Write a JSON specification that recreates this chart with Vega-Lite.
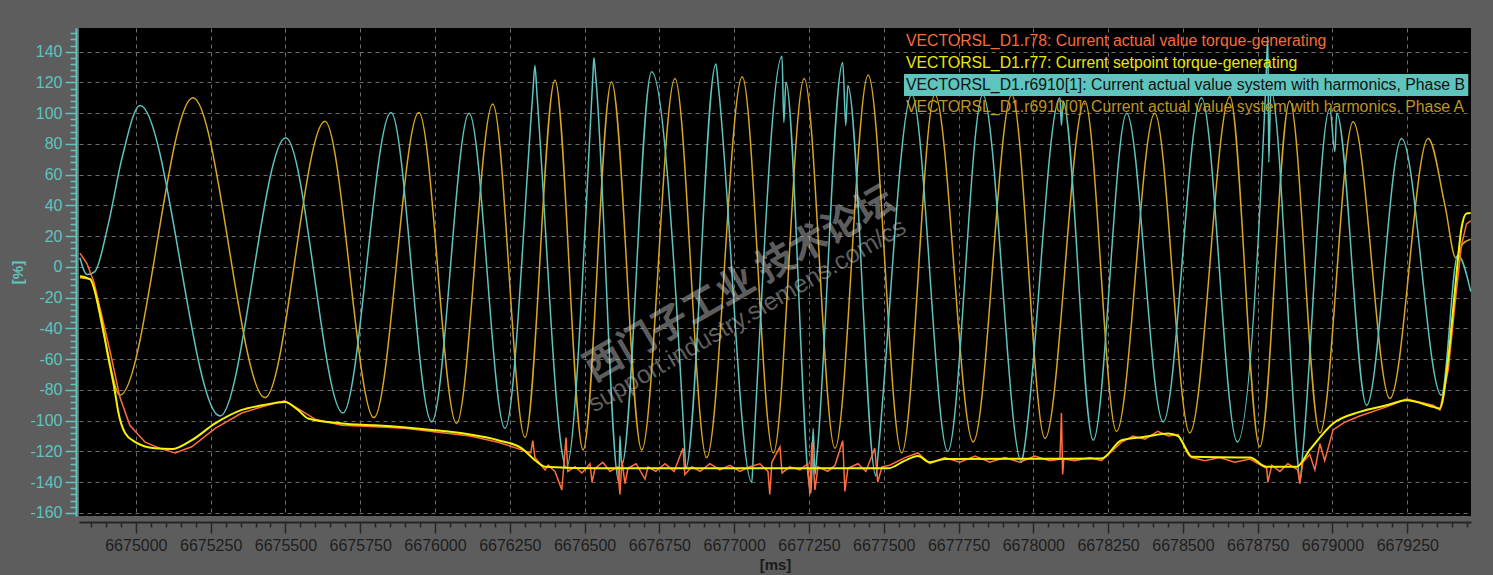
{
  "$schema": "https://vega.github.io/schema/vega-lite/v6.json",
  "width": 1392,
  "height": 488,
  "autosize": {"type": "none"},
  "padding": {"left": 79, "top": 28, "right": 22, "bottom": 59},
  "background": "#5d5d5d",
  "config": {
    "view": {"fill": "#000000", "stroke": null},
    "font": "Liberation Sans",
    "axis": {"labelFont": "Liberation Sans", "titleFont": "Liberation Sans"}
  },
  "datasets": {
    "wm": [
      {"w": "西门子工业  技术论坛", "kind": "cn"},
      {"w": "support.industry.siemens.com/cs", "kind": "url"}
    ]
  },
  "data": {"values": [
    {"s":"A","t":6674813,"v":-7},{"s":"A","t":6674847,"v":-8},{"s":"A","t":6674894,"v":-45},{"s":"A","t":6674947,"v":-83.4},
    {"s":"A","t":6675191,"v":110},{"s":"A","t":6675432,"v":-85},{"s":"A","t":6675632,"v":94.8},{"s":"A","t":6675796,"v":-98},
    {"s":"A","t":6675946,"v":100.5},{"s":"A","t":6676072,"v":-101.8},{"s":"A","t":6676193,"v":106},{"s":"A","t":6676301,"v":-111},
    {"s":"A","t":6676401,"v":121.5},{"s":"A","t":6676495,"v":-119},{"s":"A","t":6676590,"v":120.4},{"s":"A","t":6676691,"v":-119},
    {"s":"A","t":6676802,"v":122.6},{"s":"A","t":6676908,"v":-124},{"s":"A","t":6677027,"v":123.7},{"s":"A","t":6677131,"v":-121},
    {"s":"A","t":6677234,"v":122.6},{"s":"A","t":6677337,"v":-118},{"s":"A","t":6677448,"v":124.8},{"s":"A","t":6677560,"v":-121},
    {"s":"A","t":6677671,"v":112},{"s":"A","t":6677799,"v":-113.8},{"s":"A","t":6677928,"v":112},{"s":"A","t":6678039,"v":-111.6},
    {"s":"A","t":6678172,"v":108},{"s":"A","t":6678278,"v":-107},{"s":"A","t":6678406,"v":100},{"s":"A","t":6678523,"v":-108},
    {"s":"A","t":6678657,"v":110.7},{"s":"A","t":6678757,"v":-117},{"s":"A","t":6678857,"v":108},{"s":"A","t":6678958,"v":-108},
    {"s":"A","t":6679069,"v":94.4},{"s":"A","t":6679192,"v":-85.6},{"s":"A","t":6679320,"v":83.6},{"s":"A","t":6679376,"v":40},
    {"s":"A","t":6679412,"v":6},{"s":"A","t":6679436,"v":15},{"s":"A","t":6679462,"v":18},

    {"s":"B","t":6674813,"v":6},{"s":"B","t":6674837,"v":-5},{"s":"B","t":6674863,"v":-3},{"s":"B","t":6674907,"v":27},
    {"s":"B","t":6674954,"v":71},{"s":"B","t":6675014,"v":105},{"s":"B","t":6675281,"v":-97},{"s":"B","t":6675501,"v":84},
    {"s":"B","t":6675692,"v":-95},{"s":"B","t":6675853,"v":100.5},{"s":"B","t":6675989,"v":-100.8},{"s":"B","t":6676114,"v":100},
    {"s":"B","t":6676234,"v":-105},{"s":"B","t":6676327,"v":113},{"s":"B","t":6676334,"v":131},{"s":"B","t":6676341,"v":112},
    {"s":"B","t":6676428,"v":-124},{"s":"B","t":6676438,"v":-131},{"s":"B","t":6676528,"v":125},{"s":"B","t":6676531,"v":136},
    {"s":"B","t":6676538,"v":122},{"s":"B","t":6676615,"v":-140},{"s":"B","t":6676618,"v":-110},{"s":"B","t":6676624,"v":-129},
    {"s":"B","t":6676724,"v":127},{"s":"B","t":6676835,"v":-120},{"s":"B","t":6676838,"v":-131},{"s":"B","t":6676939,"v":132},
    {"s":"B","t":6676947,"v":118},{"s":"B","t":6677059,"v":-140},{"s":"B","t":6677064,"v":-122},{"s":"B","t":6677160,"v":137},
    {"s":"B","t":6677166,"v":94},{"s":"B","t":6677173,"v":120},{"s":"B","t":6677257,"v":-147},{"s":"B","t":6677264,"v":-105},
    {"s":"B","t":6677270,"v":-135},{"s":"B","t":6677277,"v":-122},{"s":"B","t":6677363,"v":133},{"s":"B","t":6677373,"v":92},
    {"s":"B","t":6677380,"v":118},{"s":"B","t":6677474,"v":-136},{"s":"B","t":6677481,"v":-122},{"s":"B","t":6677594,"v":112},
    {"s":"B","t":6677714,"v":-120},{"s":"B","t":6677831,"v":112},{"s":"B","t":6677961,"v":-127},{"s":"B","t":6677966,"v":-122.5},
    {"s":"B","t":6678089,"v":110},{"s":"B","t":6678094,"v":92},{"s":"B","t":6678099,"v":108},{"s":"B","t":6678200,"v":-112.7},
    {"s":"B","t":6678312,"v":100},{"s":"B","t":6678434,"v":-100.8},{"s":"B","t":6678562,"v":110},{"s":"B","t":6678682,"v":-113.8},
    {"s":"B","t":6678777,"v":118},{"s":"B","t":6678784,"v":150},{"s":"B","t":6678787,"v":68},{"s":"B","t":6678794,"v":115},
    {"s":"B","t":6678884,"v":-127},{"s":"B","t":6678891,"v":-140},{"s":"B","t":6678901,"v":-120},{"s":"B","t":6678991,"v":103},
    {"s":"B","t":6679008,"v":75},{"s":"B","t":6679014,"v":100},{"s":"B","t":6679114,"v":-90},{"s":"B","t":6679231,"v":83.6},
    {"s":"B","t":6679364,"v":-83.4},{"s":"B","t":6679419,"v":7.7},{"s":"B","t":6679462,"v":-16},

    {"s":"r77","t":6674813,"v":-6},{"s":"r77","t":6674847,"v":-8},{"s":"r77","t":6674880,"v":-30},{"s":"r77","t":6674908,"v":-59},
    {"s":"r77","t":6674930,"v":-81},{"s":"r77","t":6674941,"v":-94},{"s":"r77","t":6674964,"v":-108},{"s":"r77","t":6674997,"v":-113.8},
    {"s":"r77","t":6675064,"v":-118},{"s":"r77","t":6675121,"v":-118.5},{"s":"r77","t":6675187,"v":-112.7},{"s":"r77","t":6675265,"v":-101.8},
    {"s":"r77","t":6675354,"v":-93},{"s":"r77","t":6675422,"v":-90},{"s":"r77","t":6675498,"v":-87.8},{"s":"r77","t":6675542,"v":-93},
    {"s":"r77","t":6675576,"v":-98.6},{"s":"r77","t":6675688,"v":-101.8},{"s":"r77","t":6675799,"v":-103},{"s":"r77","t":6675989,"v":-106},
    {"s":"r77","t":6676117,"v":-109},{"s":"r77","t":6676211,"v":-112.7},{"s":"r77","t":6676290,"v":-118},{"s":"r77","t":6676334,"v":-125.7},
    {"s":"r77","t":6676368,"v":-130},{"s":"r77","t":6676551,"v":-131},{"s":"r77","t":6676886,"v":-131},{"s":"r77","t":6677514,"v":-131},
    {"s":"r77","t":6677571,"v":-126},{"s":"r77","t":6677614,"v":-123},{"s":"r77","t":6677654,"v":-127},{"s":"r77","t":6677704,"v":-125},
    {"s":"r77","t":6678228,"v":-124.6},{"s":"r77","t":6678295,"v":-112.7},{"s":"r77","t":6678373,"v":-110.5},{"s":"r77","t":6678451,"v":-108.3},
    {"s":"r77","t":6678484,"v":-110},{"s":"r77","t":6678529,"v":-123.5},{"s":"r77","t":6678724,"v":-124},{"s":"r77","t":6678780,"v":-130},
    {"s":"r77","t":6678880,"v":-130},{"s":"r77","t":6678924,"v":-119},{"s":"r77","t":6679002,"v":-101.8},{"s":"r77","t":6679091,"v":-94.3},
    {"s":"r77","t":6679181,"v":-90},{"s":"r77","t":6679247,"v":-86.7},{"s":"r77","t":6679336,"v":-91},{"s":"r77","t":6679359,"v":-92},
    {"s":"r77","t":6679387,"v":-59.5},{"s":"r77","t":6679409,"v":-16},{"s":"r77","t":6679431,"v":25},{"s":"r77","t":6679448,"v":34.8},
    {"s":"r77","t":6679462,"v":35},

    {"s":"r78","t":6674813,"v":9},{"s":"r78","t":6674837,"v":2},{"s":"r78","t":6674860,"v":-10},{"s":"r78","t":6674890,"v":-35},
    {"s":"r78","t":6674914,"v":-55},{"s":"r78","t":6674947,"v":-85},{"s":"r78","t":6674980,"v":-103},{"s":"r78","t":6675031,"v":-114},
    {"s":"r78","t":6675081,"v":-118},{"s":"r78","t":6675131,"v":-121},{"s":"r78","t":6675187,"v":-117},{"s":"r78","t":6675265,"v":-105},
    {"s":"r78","t":6675354,"v":-95},{"s":"r78","t":6675422,"v":-91},{"s":"r78","t":6675498,"v":-87},{"s":"r78","t":6675549,"v":-93},
    {"s":"r78","t":6675599,"v":-99},{"s":"r78","t":6675688,"v":-103},{"s":"r78","t":6675799,"v":-104},{"s":"r78","t":6675900,"v":-105},
    {"s":"r78","t":6675989,"v":-107},{"s":"r78","t":6676117,"v":-110},{"s":"r78","t":6676211,"v":-114},{"s":"r78","t":6676290,"v":-119},
    {"s":"r78","t":6676320,"v":-121},{"s":"r78","t":6676327,"v":-113},{"s":"r78","t":6676334,"v":-124},{"s":"r78","t":6676368,"v":-132},
    {"s":"r78","t":6676378,"v":-129},{"s":"r78","t":6676401,"v":-133},{"s":"r78","t":6676424,"v":-145},{"s":"r78","t":6676431,"v":-128},
    {"s":"r78","t":6676438,"v":-111},{"s":"r78","t":6676444,"v":-133},{"s":"r78","t":6676468,"v":-130},{"s":"r78","t":6676491,"v":-134},
    {"s":"r78","t":6676518,"v":-128},{"s":"r78","t":6676525,"v":-140},{"s":"r78","t":6676535,"v":-131},{"s":"r78","t":6676561,"v":-127},
    {"s":"r78","t":6676585,"v":-133},{"s":"r78","t":6676611,"v":-130},{"s":"r78","t":6676618,"v":-148},{"s":"r78","t":6676625,"v":-126},
    {"s":"r78","t":6676635,"v":-141},{"s":"r78","t":6676645,"v":-131},{"s":"r78","t":6676672,"v":-128},{"s":"r78","t":6676702,"v":-138},
    {"s":"r78","t":6676712,"v":-130},{"s":"r78","t":6676738,"v":-133},{"s":"r78","t":6676769,"v":-128},{"s":"r78","t":6676799,"v":-133},
    {"s":"r78","t":6676829,"v":-118},{"s":"r78","t":6676835,"v":-135},{"s":"r78","t":6676859,"v":-130},{"s":"r78","t":6676886,"v":-133},
    {"s":"r78","t":6676919,"v":-128},{"s":"r78","t":6676952,"v":-132},{"s":"r78","t":6676986,"v":-129},{"s":"r78","t":6677019,"v":-133},
    {"s":"r78","t":6677053,"v":-130},{"s":"r78","t":6677086,"v":-128},{"s":"r78","t":6677113,"v":-133},{"s":"r78","t":6677119,"v":-148},
    {"s":"r78","t":6677126,"v":-127},{"s":"r78","t":6677153,"v":-117},{"s":"r78","t":6677160,"v":-134},{"s":"r78","t":6677186,"v":-130},
    {"s":"r78","t":6677220,"v":-132},{"s":"r78","t":6677246,"v":-128},{"s":"r78","t":6677253,"v":-148},{"s":"r78","t":6677260,"v":-114},
    {"s":"r78","t":6677270,"v":-145},{"s":"r78","t":6677280,"v":-130},{"s":"r78","t":6677313,"v":-133},{"s":"r78","t":6677337,"v":-129},
    {"s":"r78","t":6677363,"v":-113},{"s":"r78","t":6677370,"v":-146},{"s":"r78","t":6677380,"v":-131},{"s":"r78","t":6677414,"v":-128},
    {"s":"r78","t":6677440,"v":-133},{"s":"r78","t":6677470,"v":-118},{"s":"r78","t":6677480,"v":-140},{"s":"r78","t":6677494,"v":-130},
    {"s":"r78","t":6677520,"v":-129},{"s":"r78","t":6677571,"v":-124},{"s":"r78","t":6677614,"v":-121},{"s":"r78","t":6677654,"v":-128},
    {"s":"r78","t":6677704,"v":-124},{"s":"r78","t":6677754,"v":-127},{"s":"r78","t":6677805,"v":-123},{"s":"r78","t":6677855,"v":-127},
    {"s":"r78","t":6677905,"v":-124},{"s":"r78","t":6677955,"v":-127},{"s":"r78","t":6678005,"v":-123},{"s":"r78","t":6678055,"v":-126},
    {"s":"r78","t":6678089,"v":-125},{"s":"r78","t":6678094,"v":-95},{"s":"r78","t":6678098,"v":-135},{"s":"r78","t":6678102,"v":-125},
    {"s":"r78","t":6678139,"v":-126},{"s":"r78","t":6678189,"v":-124},{"s":"r78","t":6678228,"v":-126},{"s":"r78","t":6678295,"v":-114},
    {"s":"r78","t":6678333,"v":-110},{"s":"r78","t":6678373,"v":-112},{"s":"r78","t":6678416,"v":-107},{"s":"r78","t":6678451,"v":-110},
    {"s":"r78","t":6678484,"v":-109},{"s":"r78","t":6678529,"v":-124},{"s":"r78","t":6678573,"v":-126},{"s":"r78","t":6678623,"v":-124},
    {"s":"r78","t":6678673,"v":-127},{"s":"r78","t":6678724,"v":-125},{"s":"r78","t":6678780,"v":-131},{"s":"r78","t":6678784,"v":-140},
    {"s":"r78","t":6678797,"v":-129},{"s":"r78","t":6678824,"v":-133},{"s":"r78","t":6678851,"v":-128},{"s":"r78","t":6678884,"v":-132},
    {"s":"r78","t":6678891,"v":-141},{"s":"r78","t":6678901,"v":-127},{"s":"r78","t":6678924,"v":-122},{"s":"r78","t":6678941,"v":-132},
    {"s":"r78","t":6678958,"v":-115},{"s":"r78","t":6678974,"v":-126},{"s":"r78","t":6679002,"v":-106},{"s":"r78","t":6679041,"v":-101},
    {"s":"r78","t":6679091,"v":-97},{"s":"r78","t":6679181,"v":-91},{"s":"r78","t":6679247,"v":-86},{"s":"r78","t":6679336,"v":-90},
    {"s":"r78","t":6679359,"v":-93},{"s":"r78","t":6679387,"v":-67},{"s":"r78","t":6679409,"v":-25},{"s":"r78","t":6679431,"v":14},
    {"s":"r78","t":6679448,"v":28},{"s":"r78","t":6679462,"v":30}
  ]},
  "layer": [
    {
      "layer": [
        {"transform": [{"filter": "datum.s === 'A'"}], "mark": {"type": "line", "interpolate": "monotone", "strokeWidth": 1.5}},
        {"transform": [{"filter": "datum.s === 'B'"}], "mark": {"type": "line", "interpolate": "monotone", "strokeWidth": 1.5}},
        {"transform": [{"filter": "datum.s === 'r78'"}], "mark": {"type": "line", "interpolate": "linear", "strokeWidth": 1.5}},
        {"transform": [{"filter": "datum.s === 'r77'"}], "mark": {"type": "line", "interpolate": "monotone", "strokeWidth": 2}}
      ],
      "encoding": {
        "x": {
          "field": "t", "type": "quantitative",
          "scale": {"domain": [6674810, 6679463], "nice": false, "zero": false},
          "axis": {
            "title": "[ms]", "titleFontSize": 15, "titleFontWeight": "bold", "titleColor": "#1a1a1a", "titlePadding": 4,
            "values": [6674850,6674900,6674950,6675000,6675050,6675100,6675150,6675200,6675250,6675300,6675350,6675400,6675450,6675500,6675550,6675600,6675650,6675700,6675750,6675800,6675850,6675900,6675950,6676000,6676050,6676100,6676150,6676200,6676250,6676300,6676350,6676400,6676450,6676500,6676550,6676600,6676650,6676700,6676750,6676800,6676850,6676900,6676950,6677000,6677050,6677100,6677150,6677200,6677250,6677300,6677350,6677400,6677450,6677500,6677550,6677600,6677650,6677700,6677750,6677800,6677850,6677900,6677950,6678000,6678050,6678100,6678150,6678200,6678250,6678300,6678350,6678400,6678450,6678500,6678550,6678600,6678650,6678700,6678750,6678800,6678850,6678900,6678950,6679000,6679050,6679100,6679150,6679200,6679250,6679300,6679350,6679400,6679450],
            "labelExpr": "datum.value % 250 === 0 ? '' + datum.value : ''",
            "labelFontSize": 16, "labelColor": "#1e1e1e", "labelPadding": 4, "labelOverlap": false, "labelFlush": false,
            "domainColor": "#262626", "domainWidth": 2, "offset": 6,
            "tickColor": "#262626", "tickWidth": 1.5,
            "tickSize": {"condition": {"test": "datum.value % 250 === 0", "value": 11}, "value": 5},
            "grid": true, "gridColor": "#8a8a8a", "gridDash": [4, 4], "gridWidth": 1,
            "gridOpacity": {"condition": {"test": "datum.value % 250 === 0", "value": 0.8}, "value": 0}
          }
        },
        "y": {
          "field": "v", "type": "quantitative",
          "scale": {"domain": [-162, 155.4], "nice": false, "zero": false},
          "axis": {
            "title": "[%]", "titleFontSize": 15, "titleFontWeight": "bold", "titleColor": "#5ec4be", "titlePadding": 4,
            "values": [-160,-156,-152,-148,-144,-140,-136,-132,-128,-124,-120,-116,-112,-108,-104,-100,-96,-92,-88,-84,-80,-76,-72,-68,-64,-60,-56,-52,-48,-44,-40,-36,-32,-28,-24,-20,-16,-12,-8,-4,0,4,8,12,16,20,24,28,32,36,40,44,48,52,56,60,64,68,72,76,80,84,88,92,96,100,104,108,112,116,120,124,128,132,136,140,144,148,152],
            "labelExpr": "datum.value % 20 === 0 ? '' + datum.value : ''",
            "labelFontSize": 16, "labelColor": "#5ec4be", "labelPadding": 3, "labelOverlap": false, "labelFlush": false,
            "domainColor": "#5ec4be", "domainWidth": 2, "offset": 3,
            "tickColor": "#5ec4be", "tickWidth": 1.5,
            "tickSize": {"condition": {"test": "datum.value % 20 === 0", "value": 11}, "value": 6},
            "grid": true, "gridColor": "#8a8a8a", "gridDash": [4, 4], "gridWidth": 1,
            "gridOpacity": {"condition": {"test": "datum.value % 20 === 0", "value": 0.8}, "value": 0}
          }
        },
        "color": {
          "field": "s", "type": "nominal",
          "scale": {"domain": ["r78", "r77", "B", "A"], "range": ["#ff6d3f", "#f4f400", "#5ec4be", "#d8a620"]},
          "legend": {
            "title": null, "orient": "top-right", "offset": 2, "padding": 0,
            "labelFont": "Liberation Sans", "labelFontSize": 15.8, "labelLimit": 0,
            "symbolType": "M-1,-1H50.3V1H-1Z", "symbolSize": 484, "symbolStrokeWidth": 0,
            "rowPadding": 0, "labelOffset": -20,
            "labelExpr": "datum.value === 'r78' ? 'VECTORSL_D1.r78: Current actual value torque-generating' : datum.value === 'r77' ? 'VECTORSL_D1.r77: Current setpoint torque-generating' : datum.value === 'B' ? 'VECTORSL_D1.r6910[1]: Current actual value system with harmonics, Phase B' : 'VECTORSL_D1.r6910[0]: Current actual value system with harmonics, Phase A'",
            "encode": {
              "symbols": {"update": {
                "fill": {"signal": "datum.value === 'B' ? '#5ec4be' : 'transparent'"},
                "stroke": {"value": "transparent"},
                "opacity": {"value": 1}
              }},
              "labels": {"update": {
                "fill": {"signal": "datum.value === 'r78' ? '#f56c3c' : datum.value === 'r77' ? '#e8e800' : datum.value === 'B' ? '#101010' : '#bf961c'"}
              }}
            }
          }
        }
      }
    },
    {
      "data": {"name": "wm"},
      "layer": [
        {
          "transform": [{"filter": "datum.kind === 'cn'"}],
          "mark": {"type": "text", "angle": -30, "font": "Noto Sans CJK SC", "fontSize": 38, "fontWeight": "bold", "align": "center", "baseline": "middle", "fill": "#c8c8c8", "fillOpacity": 0.48},
          "encoding": {
            "x": {"datum": 6677019, "type": "quantitative", "axis": null},
            "y": {"datum": -11.8, "type": "quantitative", "axis": null}
          }
        },
        {
          "transform": [{"filter": "datum.kind === 'url'"}],
          "mark": {"type": "text", "angle": -30, "font": "Liberation Sans", "fontSize": 25, "align": "center", "baseline": "middle", "fill": "#c8c8c8", "fillOpacity": 0.48},
          "encoding": {
            "x": {"datum": 6677043, "type": "quantitative", "axis": null},
            "y": {"datum": -31.4, "type": "quantitative", "axis": null}
          }
        }
      ],
      "encoding": {
        "text": {"field": "w", "type": "nominal"}
      }
    }
  ],
  "resolve": {"axis": {"x": "independent", "y": "independent"}}
}
